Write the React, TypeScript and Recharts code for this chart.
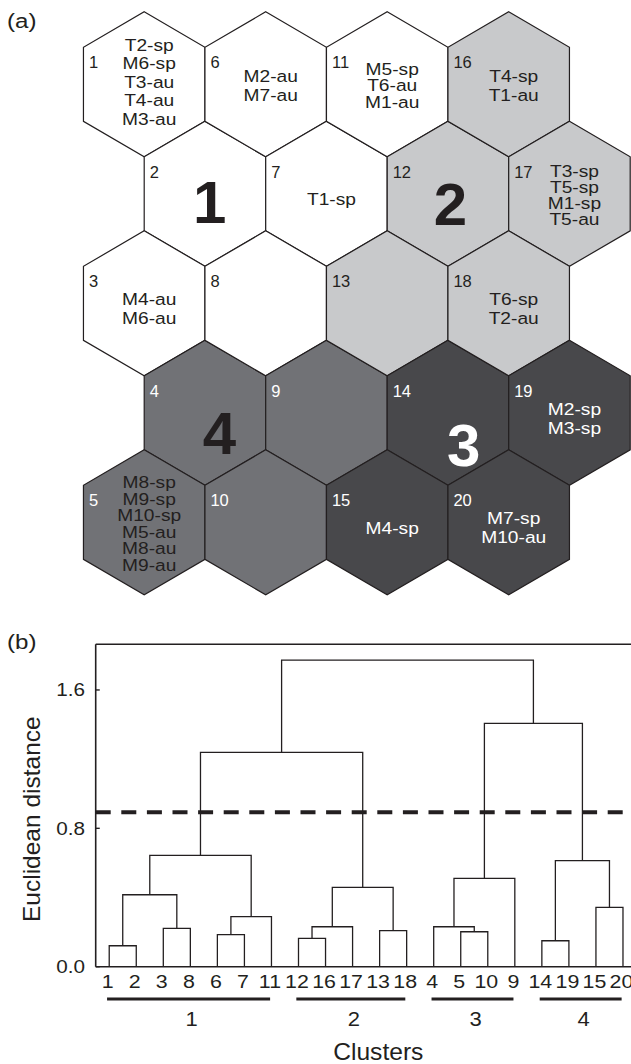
import React from "react";
import {
  ComposedChart,
  Line,
  ReferenceLine,
  Scatter,
  ScatterChart,
  XAxis,
  YAxis
} from "recharts";

// ---------- (a) SOM hexagon map ----------
// labels of the samples placed in each hexagon, hexagons 1..20 (column by column)
const hexLabels: string[][] = [
  ["T2-sp", "M6-sp", "T3-au", "T4-au", "M3-au"],
  [],
  ["M4-au", "M6-au"],
  [],
  ["M8-sp", "M9-sp", "M10-sp", "M5-au", "M8-au", "M9-au"],
  ["M2-au", "M7-au"],
  ["T1-sp"],
  [],
  [],
  [],
  ["M5-sp", "T6-au", "M1-au"],
  [],
  [],
  [],
  ["M4-sp"],
  ["T4-sp", "T1-au"],
  ["T3-sp", "T5-sp", "M1-sp", "T5-au"],
  ["T6-sp", "T2-au"],
  ["M2-sp", "M3-sp"],
  ["M7-sp", "M10-au"]
];
const hexCluster = [1, 1, 1, 4, 4, 1, 1, 1, 4, 4, 1, 2, 2, 3, 3, 2, 2, 2, 3, 3];

const clusterNames = ["1", "2", "3", "4"];
const clusterLabelX = [0.54, 2.52, 2.63, 0.62];
const clusterLabelY = [1.07, 1.09, 3.29, 3.18];

// ---------- (b) dendrogram ----------
const leafOrder = [1, 2, 3, 8, 6, 7, 11, 12, 16, 17, 13, 18, 4, 5, 10, 9, 14, 19, 15, 20];
// positive = leaf (hexagon id), negative = earlier merge (-1 is the first one)
const mergeLeft = [1, 3, -1, 6, -4, -3, 12, -7, 13, -8, -6, 5, 4, -13, 14, 15, -15, -14, -11];
const mergeRight = [2, 8, -2, 7, 11, -5, 16, 17, 18, -9, -10, 10, -12, 9, 19, 20, -16, -17, -18];
const mergeHeight = [
  0.121, 0.222, 0.416, 0.185, 0.289, 0.644, 0.164, 0.231, 0.208, 0.459,
  1.239, 0.202, 0.231, 0.511, 0.15, 0.343, 0.613, 1.407, 1.773
];
const cutHeight = 0.893;
const yTicks = [0, 0.8, 1.6];
const yTop = 1.864;
const clusterFirstLeaf = [1, 8, 13, 17];
const clusterLastLeaf = [7, 12, 16, 20];

const INK = "#231f20";
const FONT = '"Liberation Sans", Arial, Helvetica, sans-serif';
const clusterFill: Record<number, string> = { 1: "#ffffff", 2: "#c8c9cb", 3: "#48484b", 4: "#717276" };

// hex geometry (px)
const HEX_DX = 121.5;
const HEX_DY = 109.5;
const VERT = 72.5;
const SHOULDER = HEX_DY - VERT;
const A_W = 631;
const A_H = 610;
const X_MIN = -144.2 / HEX_DX;
const Y_MIN = -84.3 / HEX_DY;

const LINE_GAP: Record<number, number> = { 1: 0, 2: 19, 3: 16.8, 4: 16, 5: 18.6, 6: 16.5 };

const hexData = hexLabels.map((labels, i) => {
  const col = Math.floor(i / 5);
  const row = i % 5;
  return { id: i + 1, x: col + (row % 2 ? 0.5 : 0), y: row, row, cluster: hexCluster[i], labels };
});

const bigLabelData = clusterNames.map((name, i) => ({
  name,
  x: clusterLabelX[i],
  y: clusterLabelY[i]
}));

// dendrogram links
const leafPos = new Map(leafOrder.map((id, i) => [id, i + 1]));
const nodes: { x: number; h: number }[] = [];
const nodeOf = (ref: number) => (ref > 0 ? { x: leafPos.get(ref) as number, h: 0 } : nodes[-ref - 1]);
const links = mergeHeight.map((h, i) => {
  const a = nodeOf(mergeLeft[i]);
  const b = nodeOf(mergeRight[i]);
  nodes.push({ x: (a.x + b.x) / 2, h });
  return [
    { x: a.x, y: a.h },
    { x: a.x, y: h },
    { x: b.x, y: h },
    { x: b.x, y: b.h }
  ];
});

function SText({ x, y, sx = 1, children, ...rest }: any) {
  return (
    <text transform={`translate(${x} ${y}) scale(${sx} 1)`} fontFamily={FONT} {...rest}>
      {children}
    </text>
  );
}

function HexShape(props: any) {
  const { cx, cy, payload } = props;
  const { id, cluster, row, labels } = payload;
  const hw = HEX_DX / 2;
  const pts = [
    [0, -VERT],
    [hw, -SHOULDER],
    [hw, SHOULDER],
    [0, VERT],
    [-hw, SHOULDER],
    [-hw, -SHOULDER]
  ]
    .map(([dx, dy]) => `${cx + dx},${cy + dy}`)
    .join(" ");
  const n = labels.length;
  const gap = LINE_GAP[n] ?? 17;
  const mid = n <= 2 && row > 0 ? 5.5 : n === 5 ? -2.7 : 1;
  const numColor = cluster >= 3 ? "#ffffff" : INK;
  const labColor = cluster === 3 ? "#ffffff" : INK;
  return (
    <g>
      <polygon points={pts} fill={clusterFill[cluster]} stroke={INK} strokeWidth={1.2} />
      <text x={cx - hw + 5.5} y={cy - 16.3} fontSize={16.5} fill={numColor} fontFamily={FONT}>
        {id}
      </text>
      {labels.map((t: string, i: number) => (
        <SText
          key={t}
          x={cx + 5}
          y={cy + mid + (i - (n - 1) / 2) * gap + 6.1}
          sx={1.13}
          fontSize={17}
          textAnchor="middle"
          fill={labColor}
        >
          {t}
        </SText>
      ))}
    </g>
  );
}

function BigLabel(props: any) {
  const { cx, cy, payload } = props;
  return (
    <text
      x={cx}
      y={cy + 21.5}
      fontSize={60}
      fontWeight="bold"
      textAnchor="middle"
      fill={payload.name === "3" ? "#ffffff" : INK}
      fontFamily={FONT}
    >
      {payload.name}
    </text>
  );
}

// panel (b) layout (chart-local px)
const B_TOP_MARGIN = 24.3;
const B_Y_W = 95.7;
const B_X_H = 97.3;
const B_H = 444;
const B_W = 636.5;
const PLOT_BOTTOM = B_H - B_X_H;

function LeafTick(props: any) {
  const { x, payload } = props;
  const label = leafOrder[payload.value - 1];
  return (
    <SText x={x - 1.5} y={PLOT_BOTTOM + 21.7} sx={1.15} fontSize={18.6} textAnchor="middle" fill={INK}>
      {label}
    </SText>
  );
}

function DistTick(props: any) {
  const { y, payload } = props;
  return (
    <SText x={85} y={y + 6.4} sx={1.15} fontSize={18} textAnchor="end" fill={INK}>
      {Number(payload.value).toFixed(1)}
    </SText>
  );
}

export default function App() {
  return (
    <div
      style={{
        position: "absolute",
        left: 0,
        top: 0,
        width: 631,
        height: 1064,
        overflow: "hidden",
        background: "#ffffff",
        fontFamily: FONT
      }}
    >
      <div style={{ position: "absolute", left: 0, top: 0 }}>
        <ScatterChart width={A_W} height={A_H} margin={{ top: 0, right: 0, bottom: 0, left: 0 }}>
          <XAxis type="number" dataKey="x" domain={[X_MIN, X_MIN + A_W / HEX_DX]} hide allowDataOverflow />
          <YAxis type="number" dataKey="y" domain={[Y_MIN, Y_MIN + A_H / HEX_DY]} reversed hide allowDataOverflow />
          <Scatter data={hexData} shape={HexShape} isAnimationActive={false} />
          <Scatter data={bigLabelData} shape={BigLabel} isAnimationActive={false} />
        </ScatterChart>
      </div>

      <div style={{ position: "absolute", left: 0, top: 620 }}>
        <ComposedChart width={B_W} height={B_H} margin={{ top: B_TOP_MARGIN, right: 0, bottom: 0, left: 0 }}>
          <XAxis
            type="number"
            dataKey="x"
            domain={[0.5, 20.5]}
            ticks={leafOrder.map((_, i) => i + 1)}
            interval={0}
            allowDataOverflow
            tickLine={false}
            axisLine={{ stroke: INK, strokeWidth: 1.6 }}
            height={B_X_H}
            tick={LeafTick}
            label={() => (
              <SText x={378.3} y={440} sx={1.07} fontSize={23} textAnchor="middle" fill={INK}>
                Clusters
              </SText>
            )}
          />
          <YAxis
            type="number"
            domain={[0, yTop]}
            ticks={yTicks}
            allowDataOverflow
            width={B_Y_W}
            tickLine={false}
            axisLine={{ stroke: INK, strokeWidth: 1.6 }}
            tick={DistTick}
            label={() => (
              <text
                transform={`translate(40 199.2) rotate(-90)`}
                fontSize={24.5}
                textAnchor="middle"
                fill={INK}
                fontFamily={FONT}
              >
                Euclidean distance
              </text>
            )}
          />
          <ReferenceLine y={yTop} stroke={INK} strokeWidth={1.6} />
          {yTicks.map((v) => (
            <ReferenceLine
              key={`t${v}`}
              segment={[
                { x: 0.5, y: v },
                { x: 0.65, y: v }
              ]}
              stroke={INK}
              strokeWidth={1.4}
            />
          ))}
          {links.map((pts, i) => (
            <Line
              key={`l${i}`}
              data={pts}
              dataKey="y"
              type="linear"
              stroke={INK}
              strokeWidth={1.3}
              dot={false}
              activeDot={false}
              isAnimationActive={false}
            />
          ))}
          <ReferenceLine y={cutHeight} stroke={INK} strokeWidth={4} strokeDasharray="15 10.6" />
          {clusterNames.map((name, i) => (
            <ReferenceLine
              key={`c${name}`}
              segment={[
                { x: clusterFirstLeaf[i] - 0.08, y: -0.1867 },
                { x: clusterLastLeaf[i] - 0.05, y: -0.1867 }
              ]}
              ifOverflow="visible"
              stroke={INK}
              strokeWidth={3}
              label={(p: any) => (
                <SText
                  x={p.viewBox.x + p.viewBox.width / 2 + 3}
                  y={p.viewBox.y + 27}
                  sx={1.1}
                  fontSize={20}
                  textAnchor="middle"
                  fill={INK}
                >
                  {name}
                </SText>
              )}
            />
          ))}
        </ComposedChart>
      </div>

      <svg width={631} height={1064} style={{ position: "absolute", left: 0, top: 0, pointerEvents: "none" }}>
        <SText x={7} y={27.6} sx={1.15} fontSize={21} fill={INK}>
          (a)
        </SText>
        <SText x={7} y={648.6} sx={1.15} fontSize={21} fill={INK}>
          (b)
        </SText>
      </svg>
    </div>
  );
}
